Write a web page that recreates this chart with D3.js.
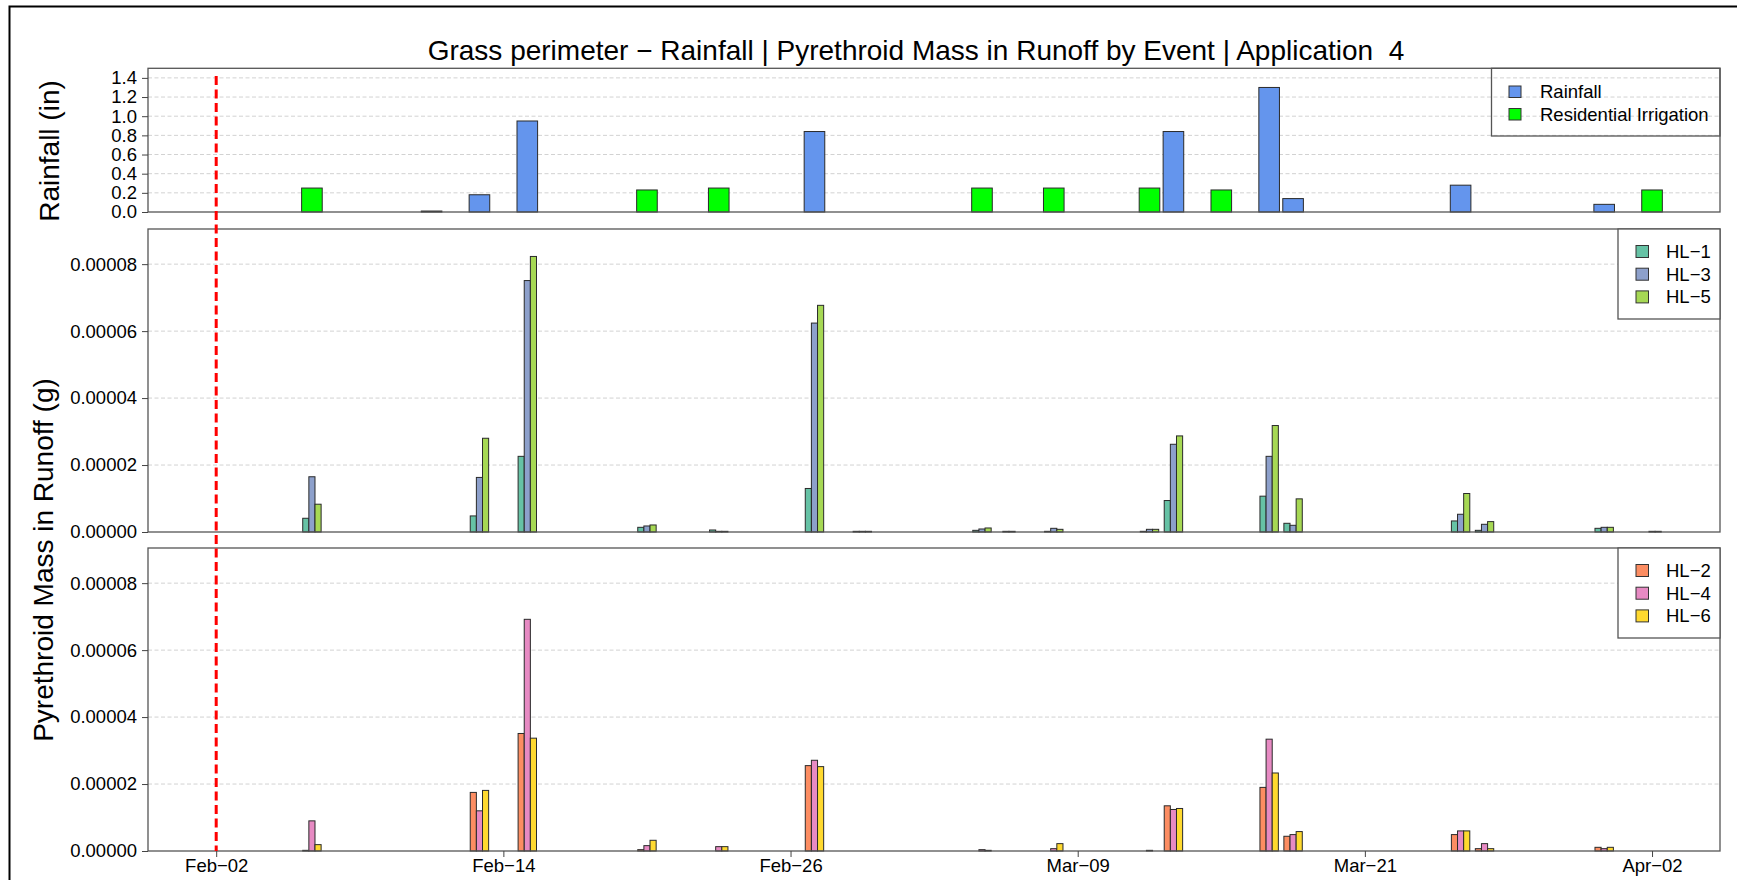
<!DOCTYPE html>
<html>
<head>
<meta charset="utf-8">
<script src="https://cdn.jsdelivr.net/npm/d3@7"></script>
<style>
  body { margin: 0; background: #fff; }
  text { font-family: "Liberation Sans", Arial, sans-serif; }
</style>
</head>
<body>
<div id="chart"></div>
<script>
// ---- data ----
var applicationDate = "2024-02-02";

var rainDates = ["2024-02-11", "2024-02-13", "2024-02-15", "2024-02-27", "2024-03-13",
                 "2024-03-17", "2024-03-18", "2024-03-25", "2024-03-31"];
var rainfall  = [0.01, 0.18, 0.95, 0.84, 0.84, 1.30, 0.14, 0.28, 0.08];

var irrigDates = ["2024-02-06", "2024-02-20", "2024-02-23", "2024-03-05", "2024-03-08",
                  "2024-03-12", "2024-03-15", "2024-04-02"];
var irrigation = [0.25, 0.23, 0.25, 0.25, 0.25, 0.25, 0.23, 0.23];

var runoffDates = ["2024-02-06", "2024-02-13", "2024-02-15", "2024-02-20", "2024-02-23",
                   "2024-02-27", "2024-02-29", "2024-03-05", "2024-03-06", "2024-03-08",
                   "2024-03-12", "2024-03-13", "2024-03-17", "2024-03-18", "2024-03-25",
                   "2024-03-26", "2024-03-31", "2024-04-02"];

var hl1 = [4.1e-6, 4.8e-6, 2.26e-5, 1.4e-6, 0.6e-6, 1.30e-5, 0.2e-6, 0.5e-6, 0, 0.2e-6,
           0.2e-6, 9.4e-6, 1.07e-5, 2.6e-6, 3.3e-6, 0.5e-6, 1.1e-6, 0];
var hl3 = [1.65e-5, 1.63e-5, 7.51e-5, 1.8e-6, 0.2e-6, 6.24e-5, 0.2e-6, 0.9e-6, 0.2e-6, 1.1e-6,
           0.8e-6, 2.62e-5, 2.26e-5, 2.0e-6, 5.3e-6, 2.3e-6, 1.4e-6, 0.2e-6];
var hl5 = [8.3e-6, 2.80e-5, 8.23e-5, 2.1e-6, 0.2e-6, 6.77e-5, 0.2e-6, 1.2e-6, 0.2e-6, 0.8e-6,
           0.8e-6, 2.87e-5, 3.18e-5, 9.9e-6, 1.15e-5, 3.1e-6, 1.4e-6, 0.2e-6];

var hl2 = [0.2e-6, 1.75e-5, 3.51e-5, 0.4e-6, 0, 2.55e-5, 0, 0, 0, 0,
           0, 1.35e-5, 1.90e-5, 4.4e-6, 4.9e-6, 0.7e-6, 1.1e-6, 0];
var hl4 = [9.0e-6, 1.20e-5, 6.92e-5, 1.6e-6, 1.3e-6, 2.71e-5, 0, 0.4e-6, 0, 0.7e-6,
           0.2e-6, 1.24e-5, 3.34e-5, 4.9e-6, 6.0e-6, 2.2e-6, 0.7e-6, 0];
var hl6 = [1.9e-6, 1.81e-5, 3.37e-5, 3.2e-6, 1.3e-6, 2.52e-5, 0, 0.2e-6, 0, 2.2e-6,
           0, 1.27e-5, 2.33e-5, 5.8e-6, 6.0e-6, 0.7e-6, 1.1e-6, 0];

var rainTicks = [0, 0.2, 0.4, 0.6, 0.8, 1.0, 1.2, 1.4];
var massTicks = [0, 0.00002, 0.00004, 0.00006, 0.00008];
var dateTicks = ["2024-02-02", "2024-02-14", "2024-02-26", "2024-03-09", "2024-03-21", "2024-04-02"];

// two spaces before the 4 in the original, kept with a no-break space
var titleText = "Grass perimeter \u2212 Rainfall | Pyrethroid Mass in Runoff by Event | Application \u00a04";

// ---- layout ----
var width = 1737, height = 880;
var plotLeft = 148, plotRight = 1720;
var rainTop = 68.3, rainBottom = 212;
var DAY = 864e5;
var fontBase = "18.5px", fontBig = "28px";

var parseDate = d3.utcParse("%Y-%m-%d");
var appDate = parseDate(applicationDate);

var x = d3.scaleUtc()
    .domain([new Date(+appDate - 2.85 * DAY), new Date(+appDate + 62.84 * DAY)])
    .range([plotLeft, plotRight]);

var yRain = d3.scaleLinear().domain([0, 1.5]).range([rainBottom, rainTop]);

var massPanels = [
    { top: 229, bottom: 532, series: [hl1, hl3, hl5],
      names: ["HL\u22121", "HL\u22123", "HL\u22125"],
      colors: ["#66C2A5", "#8DA0CB", "#A6D854"] },
    { top: 548, bottom: 851, series: [hl2, hl4, hl6],
      names: ["HL\u22122", "HL\u22124", "HL\u22126"],
      colors: ["#FC8D62", "#E78AC3", "#FFD92F"] }
];

var svg = d3.select("#chart").append("svg")
    .attr("width", width)
    .attr("height", height);

// outer frame (right and bottom edges fall outside the picture)
svg.append("rect")
    .attr("x", 9.5).attr("y", 6.5)
    .attr("width", width + 20).attr("height", height + 20)
    .attr("fill", "none").attr("stroke", "#000").attr("stroke-width", 2);

svg.append("text")
    .attr("x", 916).attr("y", 60)
    .attr("text-anchor", "middle")
    .style("font-size", fontBig)
    .text(titleText);

function grid(g, y, ticks) {
    g.selectAll(".grid")
        .data(ticks.filter(function(d) { return d > 0; }))
        .enter().append("line")
        .attr("x1", plotLeft).attr("x2", plotRight)
        .attr("y1", function(d) { return y(d); })
        .attr("y2", function(d) { return y(d); })
        .attr("stroke", "#d2d2d2")
        .attr("stroke-dasharray", "4,2.5");
}

function box(g, top, bottom) {
    g.append("rect")
        .attr("x", plotLeft).attr("y", top)
        .attr("width", plotRight - plotLeft).attr("height", bottom - top)
        .attr("fill", "none").attr("stroke", "#555").attr("stroke-width", 1.3);
}

function leftAxis(g, y, ticks, fmt) {
    var ax = g.append("g")
        .attr("transform", "translate(" + plotLeft + ",0)")
        .call(d3.axisLeft(y).tickValues(ticks).tickFormat(fmt).tickSize(6).tickPadding(5));
    ax.select(".domain").remove();
    ax.selectAll("line").attr("stroke", "#444");
    ax.selectAll("text")
        .style("font-size", fontBase)
        .style("font-family", "'Liberation Sans', Arial, sans-serif")
        .attr("fill", "#000");
}

// ---- rainfall panel ----
var rainG = svg.append("g");
grid(rainG, yRain, rainTicks);

var rainBarW = 20.6;
var rainBars = rainDates.map(function(d, i) { return { date: parseDate(d), v: rainfall[i], c: "#6495ED" }; })
    .concat(irrigDates.map(function(d, i) { return { date: parseDate(d), v: irrigation[i], c: "#00FF00" }; }));

rainG.selectAll(".rbar")
    .data(rainBars)
    .enter().append("rect")
    .attr("class", "rbar")
    .attr("x", function(d) { return x(d.date) - rainBarW / 2; })
    .attr("y", function(d) { return yRain(d.v); })
    .attr("width", rainBarW)
    .attr("height", function(d) { return yRain(0) - yRain(d.v); })
    .attr("fill", function(d) { return d.c; })
    .attr("stroke", "#2a2a2a").attr("stroke-width", 1);

box(rainG, rainTop, rainBottom);
leftAxis(rainG, yRain, rainTicks, d3.format(".1f"));

// rainfall legend (transparent)
var rl = rainG.append("g");
rl.append("rect")
    .attr("x", 1491.5).attr("y", rainTop)
    .attr("width", plotRight - 1491.5).attr("height", 136 - rainTop)
    .attr("fill", "none").attr("stroke", "#555").attr("stroke-width", 1.3);
[["Rainfall", "#6495ED"], ["Residential Irrigation", "#00FF00"]].forEach(function(e, i) {
    var cy = 92 + i * 22.5;
    rl.append("rect")
        .attr("x", 1509).attr("y", cy - 6).attr("width", 12).attr("height", 11.5)
        .attr("fill", e[1]).attr("stroke", "#333");
    rl.append("text")
        .attr("x", 1540).attr("y", cy).attr("dy", "0.35em")
        .style("font-size", fontBase)
        .text(e[0]);
});

// ---- runoff mass panels ----
var groupW = 18.4;
var subW = groupW / 3;
var runoff = runoffDates.map(parseDate);

massPanels.forEach(function(p, pi) {
    var g = svg.append("g");
    var y = d3.scaleLinear().domain([0, 0.0000905]).range([p.bottom, p.top]);
    grid(g, y, massTicks);

    p.series.forEach(function(vals, si) {
        g.selectAll(".s" + si)
            .data(vals.map(function(v, i) { return { date: runoff[i], v: v }; })
                      .filter(function(d) { return d.v > 0; }))
            .enter().append("rect")
            .attr("x", function(d) { return x(d.date) - groupW / 2 + si * subW; })
            .attr("y", function(d) { return y(d.v); })
            .attr("width", subW)
            .attr("height", function(d) { return y(0) - y(d.v); })
            .attr("fill", p.colors[si])
            .attr("stroke", "#2a2a2a").attr("stroke-width", 1);
    });

    box(g, p.top, p.bottom);
    leftAxis(g, y, massTicks, d3.format(".5f"));

    // legend with white background
    var lg = g.append("g");
    lg.append("rect")
        .attr("x", 1618).attr("y", p.top)
        .attr("width", plotRight - 1618).attr("height", 90)
        .attr("fill", "#fff").attr("stroke", "#555").attr("stroke-width", 1.3);
    p.names.forEach(function(n, i) {
        var cy = p.top + 22.5 + i * 22.7;
        lg.append("rect")
            .attr("x", 1636).attr("y", cy - 6).attr("width", 12.5).attr("height", 12)
            .attr("fill", p.colors[i]).attr("stroke", "#333");
        lg.append("text")
            .attr("x", 1666).attr("y", cy).attr("dy", "0.35em")
            .style("font-size", fontBase)
            .text(n);
    });

    if (pi === massPanels.length - 1) {
        var fmt = d3.utcFormat("%b-%d");
        var bx = g.append("g")
            .attr("transform", "translate(0," + p.bottom + ")")
            .call(d3.axisBottom(x)
                .tickValues(dateTicks.map(parseDate))
                .tickFormat(function(d) { return fmt(d).replace("-", "\u2212"); })
                .tickSize(6).tickPadding(2));
        bx.select(".domain").remove();
        bx.selectAll("line").attr("stroke", "#444");
        bx.selectAll("text")
            .style("font-size", fontBase)
            .style("font-family", "'Liberation Sans', Arial, sans-serif")
            .attr("fill", "#000");
    }
});

// axis titles
svg.append("text")
    .attr("transform", "translate(59,151) rotate(-90)")
    .attr("text-anchor", "middle")
    .style("font-size", fontBig)
    .text("Rainfall (in)");

svg.append("text")
    .attr("transform", "translate(53,560) rotate(-90)")
    .attr("text-anchor", "middle")
    .style("font-size", fontBig)
    .text("Pyrethroid Mass in Runoff (g)");

// application date marker
svg.append("line")
    .attr("x1", x(appDate)).attr("x2", x(appDate))
    .attr("y1", 76).attr("y2", massPanels[1].bottom)
    .attr("stroke", "#FF0000").attr("stroke-width", 3)
    .attr("stroke-dasharray", "9,4.5");
</script>
</body>
</html>
